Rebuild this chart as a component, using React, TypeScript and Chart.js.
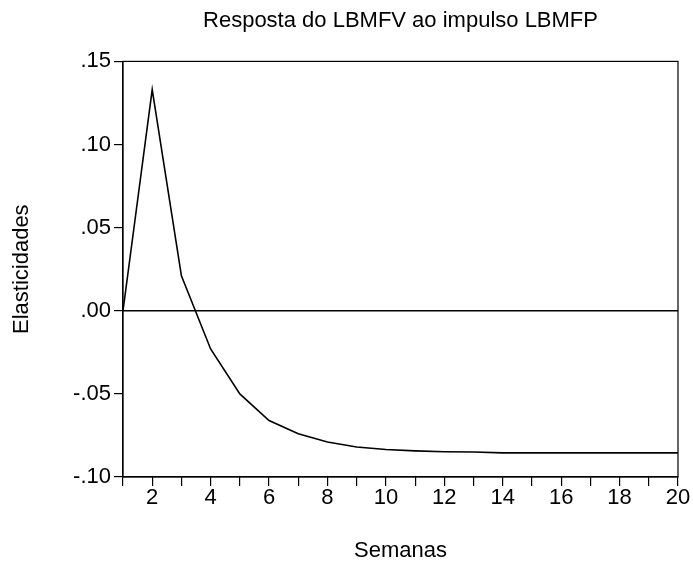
import React, { useEffect, useRef } from "react";
import { Chart, registerables } from "chart.js";

Chart.register(...registerables);

const weeks = [1, 2, 3, 4, 5, 6, 7, 8, 9, 10, 11, 12, 13, 14, 15, 16, 17, 18, 19, 20];
const response = [
  0, 0.133, 0.021, -0.023, -0.05, -0.066, -0.074, -0.079, -0.082, -0.0835,
  -0.0843, -0.0848, -0.085, -0.0855, -0.0855, -0.0855, -0.0855, -0.0855, -0.0855, -0.0855,
];
const zeroLine = weeks.map(() => 0);
const yTicks = [-0.1, -0.05, 0, 0.05, 0.1, 0.15];

const titleText = "Resposta do LBMFV ao impulso LBMFP";
const xTitle = "Semanas";
const yTitle = "Elasticidades";

const FONT = "'Liberation Sans', Arial, Helvetica, sans-serif";

const frame = {
  id: "frame",
  afterDatasetsDraw(chart: any) {
    const { ctx, chartArea } = chart;
    ctx.save();
    ctx.strokeStyle = "#000";
    ctx.lineWidth = 1.2;
    ctx.strokeRect(chartArea.left, chartArea.top, chartArea.right - chartArea.left, chartArea.bottom - chartArea.top);
    ctx.restore();
  },
};

function fmt(v: number) {
  const s = v.toFixed(2);
  return s.replace("0.", ".");
}

export default function App() {
  const ref = useRef<HTMLCanvasElement | null>(null);
  useEffect(() => {
    if (!ref.current) return;
    const chart = new Chart(ref.current, {
      type: "line",
      data: {
        datasets: [
          {
            data: weeks.map((w, i) => ({ x: w, y: response[i] })),
            borderColor: "#000",
            borderWidth: 1.6,
            pointRadius: 0,
            tension: 0,
          },
          {
            data: weeks.map((w, i) => ({ x: w, y: zeroLine[i] })),
            borderColor: "#000",
            borderWidth: 1.3,
            pointRadius: 0,
          },
        ],
      },
      options: {
        animation: false,
        responsive: true,
        maintainAspectRatio: false,
        layout: { padding: { left: 0, right: 15, top: 0, bottom: 0 } },
        plugins: {
          legend: { display: false },
          tooltip: { enabled: false },
          title: {
            display: true,
            text: titleText,
            color: "#000",
            fullSize: false,
            font: { family: FONT, size: 22, weight: "normal" },
            padding: { top: 8, bottom: 27 },
          },
        },
        scales: {
          x: {
            type: "linear",
            min: 1,
            max: 20,
            afterFit(scale: any) {
              scale.height = 94;
            },
            border: { display: true, color: "#000", width: 1.2 },
            grid: { drawOnChartArea: false, drawTicks: true, tickLength: 9, color: "#000", lineWidth: 1.2 },
            ticks: {
              stepSize: 1,
              autoSkip: false,
              maxRotation: 0,
              padding: -1,
              color: "#000",
              font: { family: FONT, size: 22 },
              callback: (v: any) => (Number(v) % 2 === 0 ? String(v) : ""),
            },
            title: {
              display: true,
              text: xTitle,
              color: "#000",
              font: { family: FONT, size: 22 },
              padding: { top: 0, bottom: 7 },
            },
          },
          y: {
            min: -0.1,
            max: 0.15,
            afterFit(scale: any) {
              scale.width = 123;
            },
            afterBuildTicks(scale: any) {
              scale.ticks = yTicks.map((v) => ({ value: v }));
            },
            border: { display: true, color: "#000", width: 1.2 },
            grid: { drawOnChartArea: false, drawTicks: true, tickLength: 9, color: "#000", lineWidth: 1.2 },
            ticks: {
              padding: 3,
              color: "#000",
              font: { family: FONT, size: 22 },
              callback: (v: any) => fmt(Number(v)),
            },
            title: {
              display: true,
              text: yTitle,
              color: "#000",
              font: { family: FONT, size: 22 },
              padding: { top: 9, bottom: 0 },
            },
          },
        },
      },
      plugins: [frame],
    } as any);
    return () => chart.destroy();
  }, []);
  return (
    <div style={{ position: "fixed", left: 0, top: 0, width: 693, height: 571, background: "#fff" }}>
      <canvas ref={ref} />
    </div>
  );
}
